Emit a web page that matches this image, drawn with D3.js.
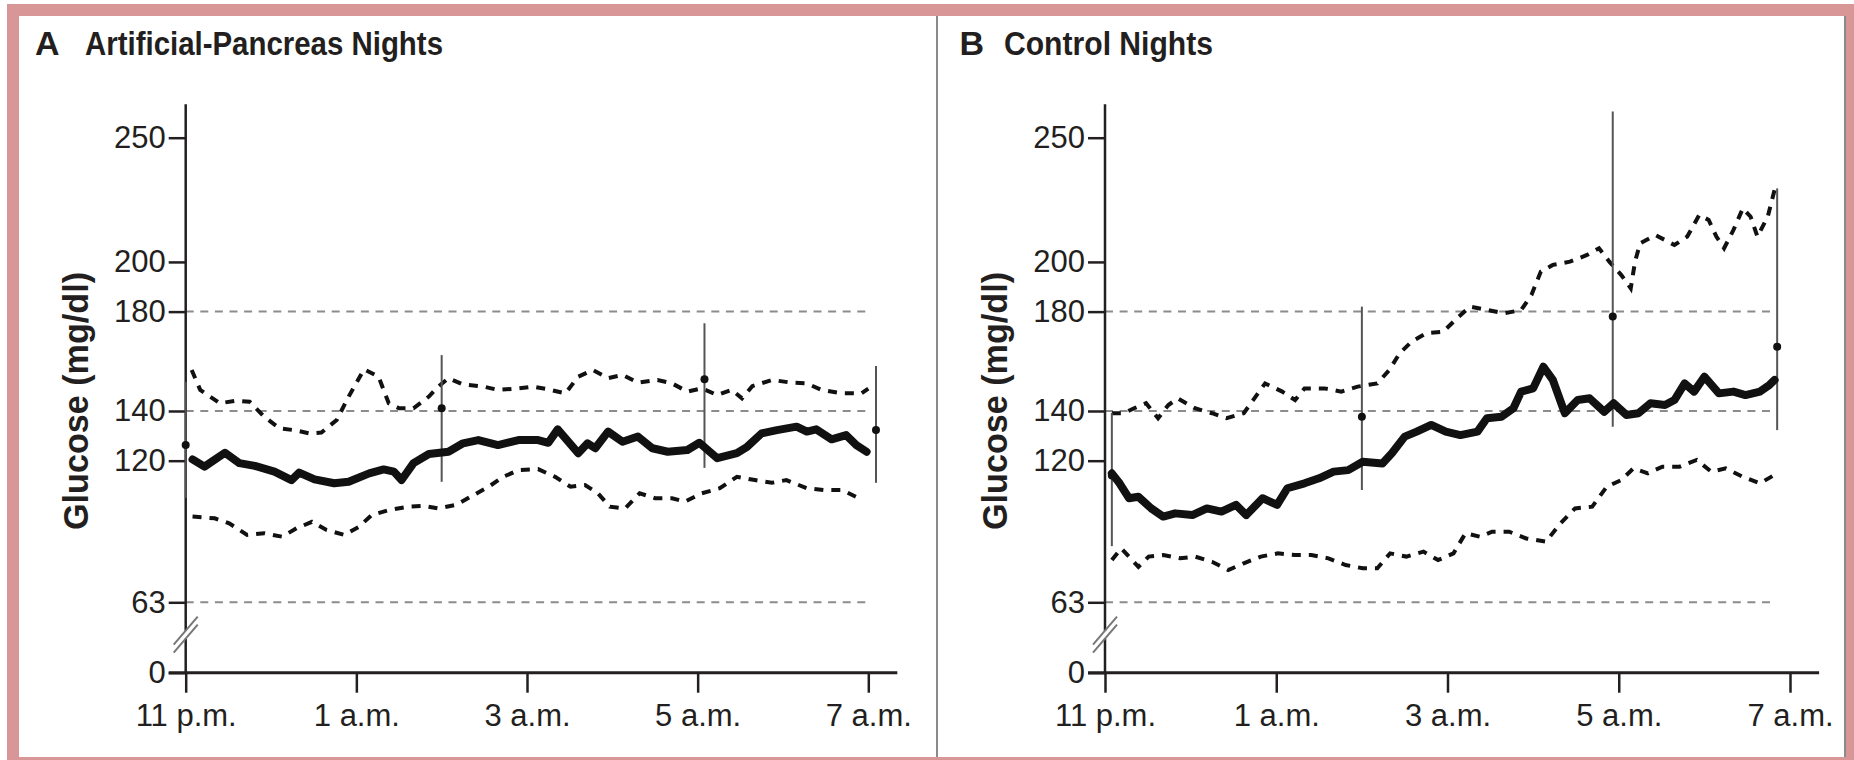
<!DOCTYPE html>
<html>
<head>
<meta charset="utf-8">
<script src="https://cdn.jsdelivr.net/npm/d3@7"></script>
<style>
  body { margin: 0; background: #fff; }
  svg { display: block; font-family: "Liberation Sans", Arial, sans-serif; }
  .axis text { font-size: 31px; fill: #231f20; }
  .axis line { stroke: #231f20; stroke-width: 2.5; }
</style>
</head>
<body>
<svg id="chart" width="1854" height="760"></svg>
<script>
// ---- dados ----
const tickHours  = [0, 2, 4, 6, 8];
const tickLabels = ["11 p.m.", "1 a.m.", "3 a.m.", "5 a.m.", "7 a.m."];
const yTicks     = [0, 63, 120, 140, 180, 200, 250];
const refLines   = [63, 140, 180];

// A - Artificial-Pancreas Nights  [horas desde 23h, glicose]
const apMean = [[0.08,120.5],[0.22,117.6],[0.46,123.2],[0.63,119],[0.81,117.9],[1.04,115.6],[1.24,112.2],[1.33,115.2],[1.51,112.5],[1.74,110.9],[1.91,111.5],[2.15,114.9],[2.32,116.5],[2.44,115.6],[2.53,112.2],[2.67,119],[2.85,122.7],[3.08,123.6],[3.25,127],[3.43,128.3],[3.66,126.3],[3.9,128.3],[4.13,128.3],[4.25,127.2],[4.36,132.6],[4.6,123],[4.71,127],[4.8,125],[4.95,131.7],[5.12,127.6],[5.3,129.7],[5.47,125],[5.65,123.6],[5.88,124.3],[6.02,127.2],[6.23,121],[6.46,123],[6.58,125.6],[6.75,131],[6.93,132.3],[7.16,133.7],[7.28,131.7],[7.39,132.6],[7.57,128.6],[7.74,130.3],[7.86,126.3],[7.98,123.6]];
const apUpper = [[0.07,156.5],[0.17,148.5],[0.4,143.1],[0.58,144.1],[0.75,143.7],[0.92,137.7],[1.1,133],[1.27,132.3],[1.45,131],[1.59,131.3],[1.77,136.4],[1.91,145.8],[2.09,156.8],[2.26,153.8],[2.38,143.1],[2.5,141.1],[2.67,141.1],[2.85,145.8],[2.96,149.8],[3.08,153.2],[3.25,150.7],[3.49,149.8],[3.66,148.5],[3.9,149.1],[4.07,149.8],[4.25,148.7],[4.45,147.1],[4.6,153.8],[4.77,156.5],[4.95,153.2],[5.12,154.5],[5.3,151.4],[5.53,152.5],[5.7,151.1],[5.88,147.8],[6.05,149.1],[6.23,146.4],[6.4,148.5],[6.52,145.1],[6.64,150],[6.87,152.5],[7.1,151.4],[7.28,151.1],[7.45,148.5],[7.69,147.1],[7.92,147.1],[8.0,149]];
const apLower = [[0.08,97.5],[0.34,96.8],[0.51,94.8],[0.72,90.1],[0.92,90.8],[1.13,89.4],[1.3,92.8],[1.48,95.4],[1.65,92.1],[1.86,90.1],[2.03,93.4],[2.18,98.1],[2.38,100.1],[2.61,101.5],[2.79,101.8],[2.96,100.8],[3.17,102.2],[3.34,105.5],[3.55,109.5],[3.72,113.5],[3.9,116.2],[4.13,116.6],[4.33,113.5],[4.51,109.5],[4.68,110.2],[4.83,106.9],[4.97,101.5],[5.15,100.8],[5.32,106.9],[5.5,104.9],[5.7,104.9],[5.85,103.5],[6.05,106.9],[6.26,108.9],[6.46,113.5],[6.67,112.2],[6.87,111.1],[7.04,112.2],[7.28,108.9],[7.48,108.2],[7.69,108.2],[7.89,104.9]];
const apBars = [
  { h: 0.0,  lo: 105,   mid: 126.3, hi: 151.7 },
  { h: 3.0,  lo: 111.5, mid: 141.1, hi: 162.5 },
  { h: 6.08, lo: 117.1, mid: 152.8, hi: 175.3 },
  { h: 8.09, lo: 111.1, mid: 132.4, hi: 158.1 }
];

// B - Control Nights
const ctMean = [[0.08,114.9],[0.17,110.9],[0.28,104.9],[0.39,105.5],[0.54,100.8],[0.68,97.5],[0.82,98.8],[1.02,98.1],[1.19,100.8],[1.36,99.5],[1.53,102.2],[1.65,98.1],[1.84,104.9],[2.01,102.2],[2.13,108.9],[2.33,110.9],[2.5,112.9],[2.67,115.6],[2.84,116.2],[3.01,119.6],[3.24,118.9],[3.35,123],[3.5,129.7],[3.64,131.7],[3.81,134.4],[3.98,131.7],[4.15,130.3],[4.35,131.7],[4.46,137.1],[4.63,137.7],[4.77,141.1],[4.86,147.8],[5.0,149.1],[5.12,157.8],[5.23,152.5],[5.37,139.1],[5.52,144.4],[5.66,145.1],[5.83,139.7],[5.94,143.1],[6.09,138.4],[6.23,139.1],[6.37,143.1],[6.54,142.4],[6.65,144.4],[6.77,151.1],[6.88,147.8],[7.0,153.8],[7.17,147.1],[7.34,147.8],[7.48,146.4],[7.65,147.8],[7.76,150.5],[7.82,152.5]];
const ctUpper = [[0.08,139.1],[0.22,139.1],[0.34,141.1],[0.48,143.1],[0.62,137.1],[0.74,142.4],[0.85,145.1],[1.05,141.1],[1.25,139.1],[1.42,137.1],[1.62,139.1],[1.73,144.4],[1.87,151.1],[2.07,147.8],[2.22,144.4],[2.33,149.1],[2.56,149.1],[2.76,147.8],[2.95,149.8],[3.18,151.1],[3.32,156.5],[3.44,163.2],[3.58,167.9],[3.75,171.3],[3.95,171.9],[4.09,176.6],[4.26,182],[4.43,180.9],[4.66,179.3],[4.86,180.6],[4.98,186.7],[5.09,196.1],[5.23,198.8],[5.43,200.1],[5.63,202.8],[5.77,205.5],[5.89,200.1],[6.03,194.7],[6.14,189.4],[6.19,200.1],[6.25,207.5],[6.43,210.8],[6.65,206.8],[6.8,210.2],[6.94,218.9],[7.05,216.9],[7.14,210.2],[7.23,205.5],[7.34,212.9],[7.45,221.6],[7.54,218.2],[7.62,210.2],[7.74,218.2],[7.82,229]];
const ctLower = [[0.08,80],[0.19,84.7],[0.39,77.3],[0.51,81.4],[0.68,82],[0.88,80.7],[1.05,81.4],[1.25,79.3],[1.44,76],[1.62,78.7],[1.82,81.4],[2.02,82.7],[2.22,82],[2.41,82],[2.61,80.7],[2.81,78],[3.01,76.7],[3.18,76.7],[3.33,82.7],[3.52,81.4],[3.72,83.4],[3.89,80],[4.07,82.7],[4.21,90.8],[4.38,89.4],[4.52,91.4],[4.72,91.4],[4.92,88.7],[5.15,87.4],[5.32,94.8],[5.49,100.8],[5.69,101.5],[5.86,109.5],[6.03,112.2],[6.17,116.9],[6.34,114.9],[6.51,117.6],[6.71,117.6],[6.91,120.3],[7.08,115.6],[7.25,116.9],[7.45,113.5],[7.65,110.9],[7.82,114.3]];
const ctBars = [
  { h: 0.08, lo: 85.6,  mid: 114,   hi: 139.2 },
  { h: 3.0,  lo: 108.2, mid: 137.7, hi: 182 },
  { h: 5.93, lo: 133.7, mid: 178,   hi: 260.5 },
  { h: 7.85, lo: 132.3, mid: 165.9, hi: 229.6 }
];

// ---- layout ----
const W = 1854, H = 760;
const cor_texto = "#231f20";
const svg = d3.select("#chart");

// moldura rosa
svg.append("rect").attr("x", 7).attr("y", 4).attr("width", W - 7).attr("height", H - 4).attr("fill", "#d99696");
svg.append("rect").attr("x", 19).attr("y", 16).attr("width", 1845 - 19).attr("height", 757 - 16).attr("fill", "#fff");
[937, 1845].forEach(xx => {
  svg.append("line").attr("x1", xx).attr("x2", xx).attr("y1", 16).attr("y2", 757)
    .attr("stroke", "#8a8a8a").attr("stroke-width", 2);
});

const paineis = [
  { letra: "A", titulo: "Artificial-Pancreas Nights", xl: 35, xt: 85, tl: 358,
    x0: 185.7, span: 682.6, refEnd: 8.0, mean: apMean, upper: apUpper, lower: apLower, bars: apBars },
  { letra: "B", titulo: "Control Nights", xl: 959.5, xt: 1004, tl: 209,
    x0: 1105, span: 685, refEnd: 7.82, mean: ctMean, upper: ctUpper, lower: ctLower, bars: ctBars }
];

// escala y com quebra: 0 fica logo abaixo de 63
const y = d3.scaleLinear().domain([0, 63, 250]).range([672.7, 602.3, 137.7]);
const yAxisTop = 263.5;

function desenha_painel(p) {
  const x = d3.scaleLinear().domain([0, 8]).range([p.x0, p.x0 + p.span]);
  const g = svg.append("g");

  // titulos
  g.append("text").attr("x", p.xl).attr("y", 55).attr("font-size", 34).attr("font-weight", "bold")
    .attr("fill", cor_texto).text(p.letra);
  g.append("text").attr("x", p.xt).attr("y", 55).attr("font-size", 34).attr("font-weight", "bold")
    .attr("fill", cor_texto).attr("textLength", p.tl).attr("lengthAdjust", "spacingAndGlyphs").text(p.titulo);

  // rotulo eixo y
  g.append("text")
    .attr("transform", `translate(${p.x0 - 98},401) rotate(-90)`)
    .attr("text-anchor", "middle").attr("font-size", 35).attr("font-weight", "bold")
    .attr("fill", cor_texto).attr("textLength", 258).attr("lengthAdjust", "spacingAndGlyphs")
    .text("Glucose (mg/dl)");

  // linhas de referencia
  g.selectAll("line.ref").data(refLines).join("line")
    .attr("class", "ref")
    .attr("x1", x(0)).attr("x2", x(p.refEnd))
    .attr("y1", d => y(d)).attr("y2", d => y(d))
    .attr("stroke", "#8c8c8c").attr("stroke-width", 2).attr("stroke-dasharray", "8,6.6");

  // eixo y
  const eixo_y = d3.axisLeft(y).tickValues(yTicks).tickSize(17).tickPadding(3).tickFormat(d3.format("d"));
  g.append("g").attr("class", "axis").attr("transform", `translate(${x(0)},0)`)
    .call(eixo_y).call(s => s.select(".domain").remove());

  // linha do eixo y com quebra
  const yb = y(0) - 38;
  g.append("line").attr("x1", x(0)).attr("x2", x(0)).attr("y1", y(yAxisTop)).attr("y2", yb - 4)
    .attr("stroke", cor_texto).attr("stroke-width", 2.5);
  g.append("line").attr("x1", x(0)).attr("x2", x(0)).attr("y1", yb + 4).attr("y2", y(0))
    .attr("stroke", cor_texto).attr("stroke-width", 2.5);
  [-4, 4].forEach(off => {
    g.append("line")
      .attr("x1", x(0) - 12).attr("y1", yb + off + 14)
      .attr("x2", x(0) + 12).attr("y2", yb + off - 14)
      .attr("stroke", "#777").attr("stroke-width", 2);
  });

  // eixo x
  const eixo_x = d3.axisBottom(x).tickValues(tickHours).tickFormat((d, i) => tickLabels[i])
    .tickSize(20).tickPadding(11);
  g.append("g").attr("class", "axis").attr("transform", `translate(0,${y(0)})`)
    .call(eixo_x).call(s => s.select(".domain").remove());
  g.append("line").attr("x1", x(0) - 17).attr("x2", x(8.34)).attr("y1", y(0)).attr("y2", y(0))
    .attr("stroke", cor_texto).attr("stroke-width", 3);

  const linha = d3.line().x(d => x(d[0])).y(d => y(d[1]));

  // faixas tracejadas
  [p.upper, p.lower].forEach(serie => {
    g.append("path").datum(serie).attr("d", linha)
      .attr("fill", "none").attr("stroke", "#111").attr("stroke-width", 4)
      .attr("stroke-dasharray", "9,8");
  });

  // barras de erro
  g.selectAll("line.bar").data(p.bars).join("line")
    .attr("class", "bar")
    .attr("x1", d => x(d.h)).attr("x2", d => x(d.h))
    .attr("y1", d => y(d.lo)).attr("y2", d => y(d.hi))
    .attr("stroke", "#555").attr("stroke-width", 2);

  // media
  g.append("path").datum(p.mean).attr("d", linha)
    .attr("fill", "none").attr("stroke", "#111").attr("stroke-width", 8)
    .attr("stroke-linejoin", "round").attr("stroke-linecap", "round");

  g.selectAll("circle.dot").data(p.bars).join("circle")
    .attr("class", "dot")
    .attr("cx", d => x(d.h)).attr("cy", d => y(d.mid)).attr("r", 4)
    .attr("fill", "#111");
}

paineis.forEach(desenha_painel);
</script>
</body>
</html>
